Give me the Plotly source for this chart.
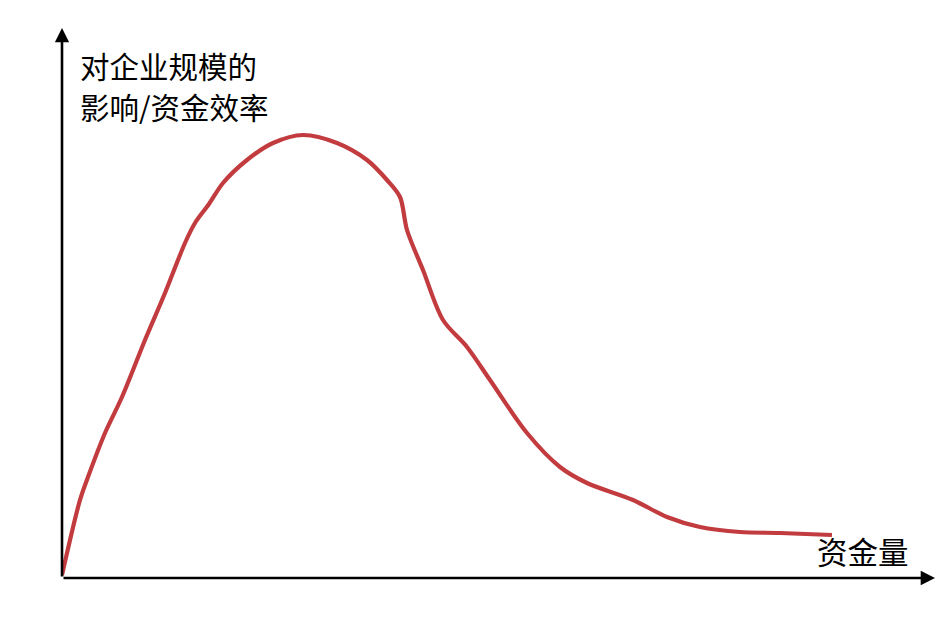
import plotly.graph_objects as go

# Curve (x: money amount, y: efficiency), arbitrary units
money = [0, 18, 26, 43, 60, 83, 103, 123, 133, 147, 161, 185, 211, 241,
         275, 305, 325, 338, 345, 361, 381, 405, 428, 465, 498, 525, 571, 605,
         638, 678, 718, 770]
efficiency = [3, 78, 101, 145, 181, 238, 285, 335, 355, 374, 395, 418, 435, 443,
              435, 418, 398, 381, 348, 308, 258, 231, 198, 145, 111,
              95, 78, 61, 51, 46, 45, 43]

y_label_1 = "对企业规模的"
y_label_2 = "影响/资金效率"
x_label = "资金量"

X_MAX = 873
Y_MAX = 550
RED = "#c23b3f"
FONT = "Noto Sans CJK SC"

fig = go.Figure()
fig.add_trace(go.Scatter(
    x=money, y=efficiency, mode="lines",
    line=dict(color=RED, width=4.2, shape="spline", smoothing=0.9),
    cliponaxis=False, hoverinfo="skip", showlegend=False,
))

# axes with arrows
for (tx, ty) in [(X_MAX, 0), (0, Y_MAX)]:
    fig.add_annotation(
        x=tx, y=ty, ax=0, ay=0, xref="x", yref="y", axref="x", ayref="y",
        showarrow=True, arrowhead=2, arrowsize=1.1, arrowwidth=2.6,
        arrowcolor="black", text="", standoff=0,
    )

fig.add_annotation(x=17, y=513, xref="x", yref="y", text=y_label_1,
                   showarrow=False, xanchor="left", yanchor="middle", borderpad=0,
                   font=dict(family=FONT, size=29.5, color="black"))
fig.add_annotation(x=17, y=472, xref="x", yref="y", text=y_label_2,
                   showarrow=False, xanchor="left", yanchor="middle", borderpad=0,
                   font=dict(family=FONT, size=29.5, color="black"))
fig.add_annotation(x=753, y=27, xref="x", yref="y", text=x_label,
                   showarrow=False, xanchor="left", yanchor="middle",
                   font=dict(family=FONT, size=30.5, color="black"))

fig.update_xaxes(range=[0, X_MAX], visible=False, fixedrange=True)
fig.update_yaxes(range=[0, Y_MAX], visible=False, fixedrange=True)
fig.update_layout(
    width=952, height=628,
    margin=dict(l=54, r=25, t=20, b=58),
    paper_bgcolor="white", plot_bgcolor="white",
    showlegend=False,
)
fig.write_html("out.html")
